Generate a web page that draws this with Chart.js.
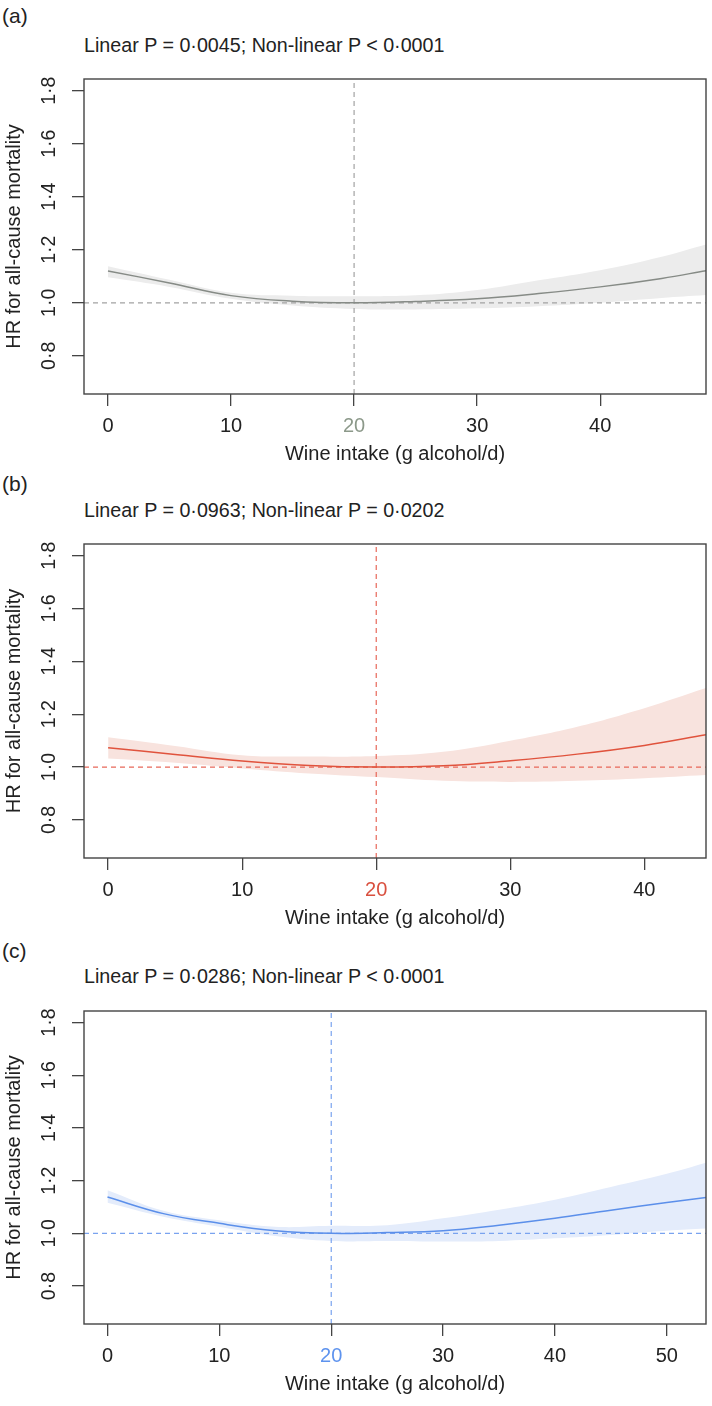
<!DOCTYPE html>
<html>
<head>
<meta charset="utf-8">
<title>Wine intake and all-cause mortality</title>
<script src="https://cdn.jsdelivr.net/npm/chart.js@4.4.1/dist/chart.umd.min.js"></script>
<style>
  body {
    margin: 0;
    width: 712px;
    height: 1406px;
    position: relative;
    overflow: hidden;
    background: #fff;
    color: #222;
    font-family: "Liberation Sans", Arial, sans-serif;
  }
  .panel-tag { position: absolute; left: 2px; font-size: 21px; line-height: 21px; }
  .p-text { position: absolute; left: 84px; font-size: 19.7px; line-height: 20px; white-space: nowrap; }
  canvas { position: absolute; left: 0; }
</style>
</head>
<body>

<div class="panel-tag" style="top:5px">(a)</div>
<div class="p-text" style="top:35px">Linear P = 0·0045; Non-linear P &lt; 0·0001</div>
<canvas id="chart-a" width="712" height="397" style="top:69px"></canvas>

<div class="panel-tag" style="top:473px">(b)</div>
<div class="p-text" style="top:500px">Linear P = 0·0963; Non-linear P = 0·0202</div>
<canvas id="chart-b" width="712" height="396" style="top:534px"></canvas>

<div class="panel-tag" style="top:940px">(c)</div>
<div class="p-text" style="top:966px">Linear P = 0·0286; Non-linear P &lt; 0·0001</div>
<canvas id="chart-c" width="712" height="395" style="top:1001px"></canvas>

<script>
// Shared axis values
const hrTicks = [0.8, 1.0, 1.2, 1.4, 1.6, 1.8];
const refHR = 1;
const refIntake = 20;

// (a) grey panel
const intakeA = [0, 5, 10, 15, 20, 25, 30, 35, 40, 45, 48.6];
const hrA     = [1.12, 1.075, 1.027, 1.006, 1.0, 1.005, 1.015, 1.035, 1.06, 1.092, 1.121];
const upperA  = [1.138, 1.087, 1.038, 1.027, 1.025, 1.028, 1.048, 1.085, 1.123, 1.174, 1.22];
const lowerA  = [1.096, 1.06, 1.015, 0.99, 0.977, 0.975, 0.979, 0.987, 1.0, 1.018, 1.029];
const xTicksA = [0, 10, 20, 30, 40];

// (b) red panel
const intakeB = [0, 5, 10, 15, 20, 25, 30, 35, 40, 44.6];
const hrB     = [1.073, 1.048, 1.023, 1.006, 1.0, 1.005, 1.024, 1.049, 1.082, 1.122];
const upperB  = [1.113, 1.08, 1.045, 1.04, 1.042, 1.058, 1.1, 1.153, 1.223, 1.299];
const lowerB  = [1.032, 1.016, 0.995, 0.976, 0.962, 0.948, 0.944, 0.948, 0.958, 0.97];
const xTicksB = [0, 10, 20, 30, 40];

// (c) blue panel
const intakeC = [0, 5, 10, 15, 20, 25, 30, 35, 40, 45, 50, 53.5];
const hrC     = [1.138, 1.075, 1.038, 1.01, 1.0, 1.003, 1.01, 1.031, 1.057, 1.088, 1.117, 1.136];
const upperC  = [1.164, 1.086, 1.05, 1.025, 1.029, 1.031, 1.057, 1.09, 1.128, 1.176, 1.226, 1.268];
const lowerC  = [1.116, 1.063, 1.025, 0.99, 0.971, 0.971, 0.969, 0.971, 0.981, 0.994, 1.01, 1.018];
const xTicksC = [0, 10, 20, 30, 40, 50];

const FONT = '"Liberation Sans", Arial, sans-serif';
const INK = '#222';
const AXIS = '#444';

function fmtHR(v) {
  return v.toFixed(1).replace('.', '·');
}

function toPoints(xs, ys) {
  return xs.map((x, i) => ({ x: x, y: ys[i] }));
}

// Box around the plot + y labels turned like R does them
const framePlugin = {
  id: 'frame',
  afterDraw(chart) {
    const { ctx, chartArea, scales } = chart;
    ctx.save();
    ctx.strokeStyle = AXIS;
    ctx.lineWidth = 1.4;
    ctx.strokeRect(chartArea.left, chartArea.top, chartArea.right - chartArea.left, chartArea.bottom - chartArea.top);

    ctx.fillStyle = INK;
    ctx.font = '19.5px ' + FONT;
    ctx.textAlign = 'center';
    ctx.textBaseline = 'middle';
    hrTicks.forEach(v => {
      const y = scales.y.getPixelForValue(v);
      ctx.save();
      ctx.translate(50, y);
      ctx.rotate(-Math.PI / 2);
      ctx.fillText(fmtHR(v), 0, 0);
      ctx.restore();
    });
    ctx.restore();
  }
};

function makePanel(id, p) {
  const yMin = 0.656, yMax = 1.844;
  const ctx = document.getElementById(id).getContext('2d');
  return new Chart(ctx, {
    type: 'line',
    data: {
      datasets: [
        // confidence band: upper filled down to lower
        { data: toPoints(p.xs, p.upper), fill: '+1', backgroundColor: p.band, borderWidth: 0,
          pointRadius: 0, tension: 0.4, order: 4 },
        { data: toPoints(p.xs, p.lower), fill: false, borderWidth: 0,
          pointRadius: 0, tension: 0.4, order: 4 },
        // reference lines
        { data: [{ x: p.xMin, y: refHR }, { x: p.xMax, y: refHR }], borderColor: p.dash,
          borderWidth: 1.2, borderDash: [5, 4], pointRadius: 0, fill: false, order: 2 },
        { data: [{ x: refIntake, y: yMin }, { x: refIntake, y: yMax }], borderColor: p.dash,
          borderWidth: 1.2, borderDash: [5, 4], pointRadius: 0, fill: false, order: 2 },
        // fitted HR
        { data: toPoints(p.xs, p.hr), borderColor: p.line, borderWidth: 1.5, pointRadius: 0,
          fill: false, tension: 0.4, order: 1 }
      ]
    },
    options: {
      responsive: false,
      devicePixelRatio: 1,
      animation: false,
      events: [],
      layout: { padding: { top: 10, right: 6, left: 0, bottom: 0 } },
      plugins: { legend: { display: false }, tooltip: { enabled: false } },
      scales: {
        x: {
          type: 'linear',
          min: p.xMin,
          max: p.xMax,
          afterBuildTicks: s => { s.ticks = p.xTicks.map(v => ({ value: v })); },
          afterFit: s => { s.height = 72; },
          border: { display: false },
          grid: { drawOnChartArea: false, drawTicks: true, tickLength: 12, color: AXIS, lineWidth: 1.3 },
          ticks: {
            padding: 8,
            maxRotation: 0,
            font: { family: FONT, size: 20 },
            color: c => (c.tick && c.tick.value === refIntake) ? p.refLabel : INK
          },
          title: { display: true, text: 'Wine intake (g alcohol/d)', color: INK,
                   font: { family: FONT, size: 20 }, padding: { top: 0, bottom: 0 } }
        },
        y: {
          min: yMin,
          max: yMax,
          afterBuildTicks: s => { s.ticks = hrTicks.map(v => ({ value: v })); },
          afterFit: s => { s.width = 84; },
          border: { display: false },
          grid: { drawOnChartArea: false, drawTicks: true, tickLength: 12, color: AXIS, lineWidth: 1.3 },
          ticks: { display: false },
          title: { display: true, text: 'HR for all-cause mortality', color: INK,
                   font: { family: FONT, size: 20 }, padding: { top: 2, bottom: 0 } }
        }
      }
    },
    plugins: [framePlugin]
  });
}

window.onload = function() {
  makePanel('chart-a', {
    xs: intakeA, hr: hrA, upper: upperA, lower: lowerA, xTicks: xTicksA,
    xMin: -1.95, xMax: 48.6,
    line: '#868b86', band: '#ececec', dash: '#a2a2a2', refLabel: '#8c998a'
  });
  makePanel('chart-b', {
    xs: intakeB, hr: hrB, upper: upperB, lower: lowerB, xTicks: xTicksB,
    xMin: -1.8, xMax: 44.6,
    line: '#e0533d', band: '#f8e3de', dash: '#e8685a', refLabel: '#d9503f'
  });
  makePanel('chart-c', {
    xs: intakeC, hr: hrC, upper: upperC, lower: lowerC, xTicks: xTicksC,
    xMin: -2.1, xMax: 53.5,
    line: '#5b8fea', band: '#e4ecfb', dash: '#7aa3ef', refLabel: '#5e93ee'
  });
};
</script>
</body>
</html>
